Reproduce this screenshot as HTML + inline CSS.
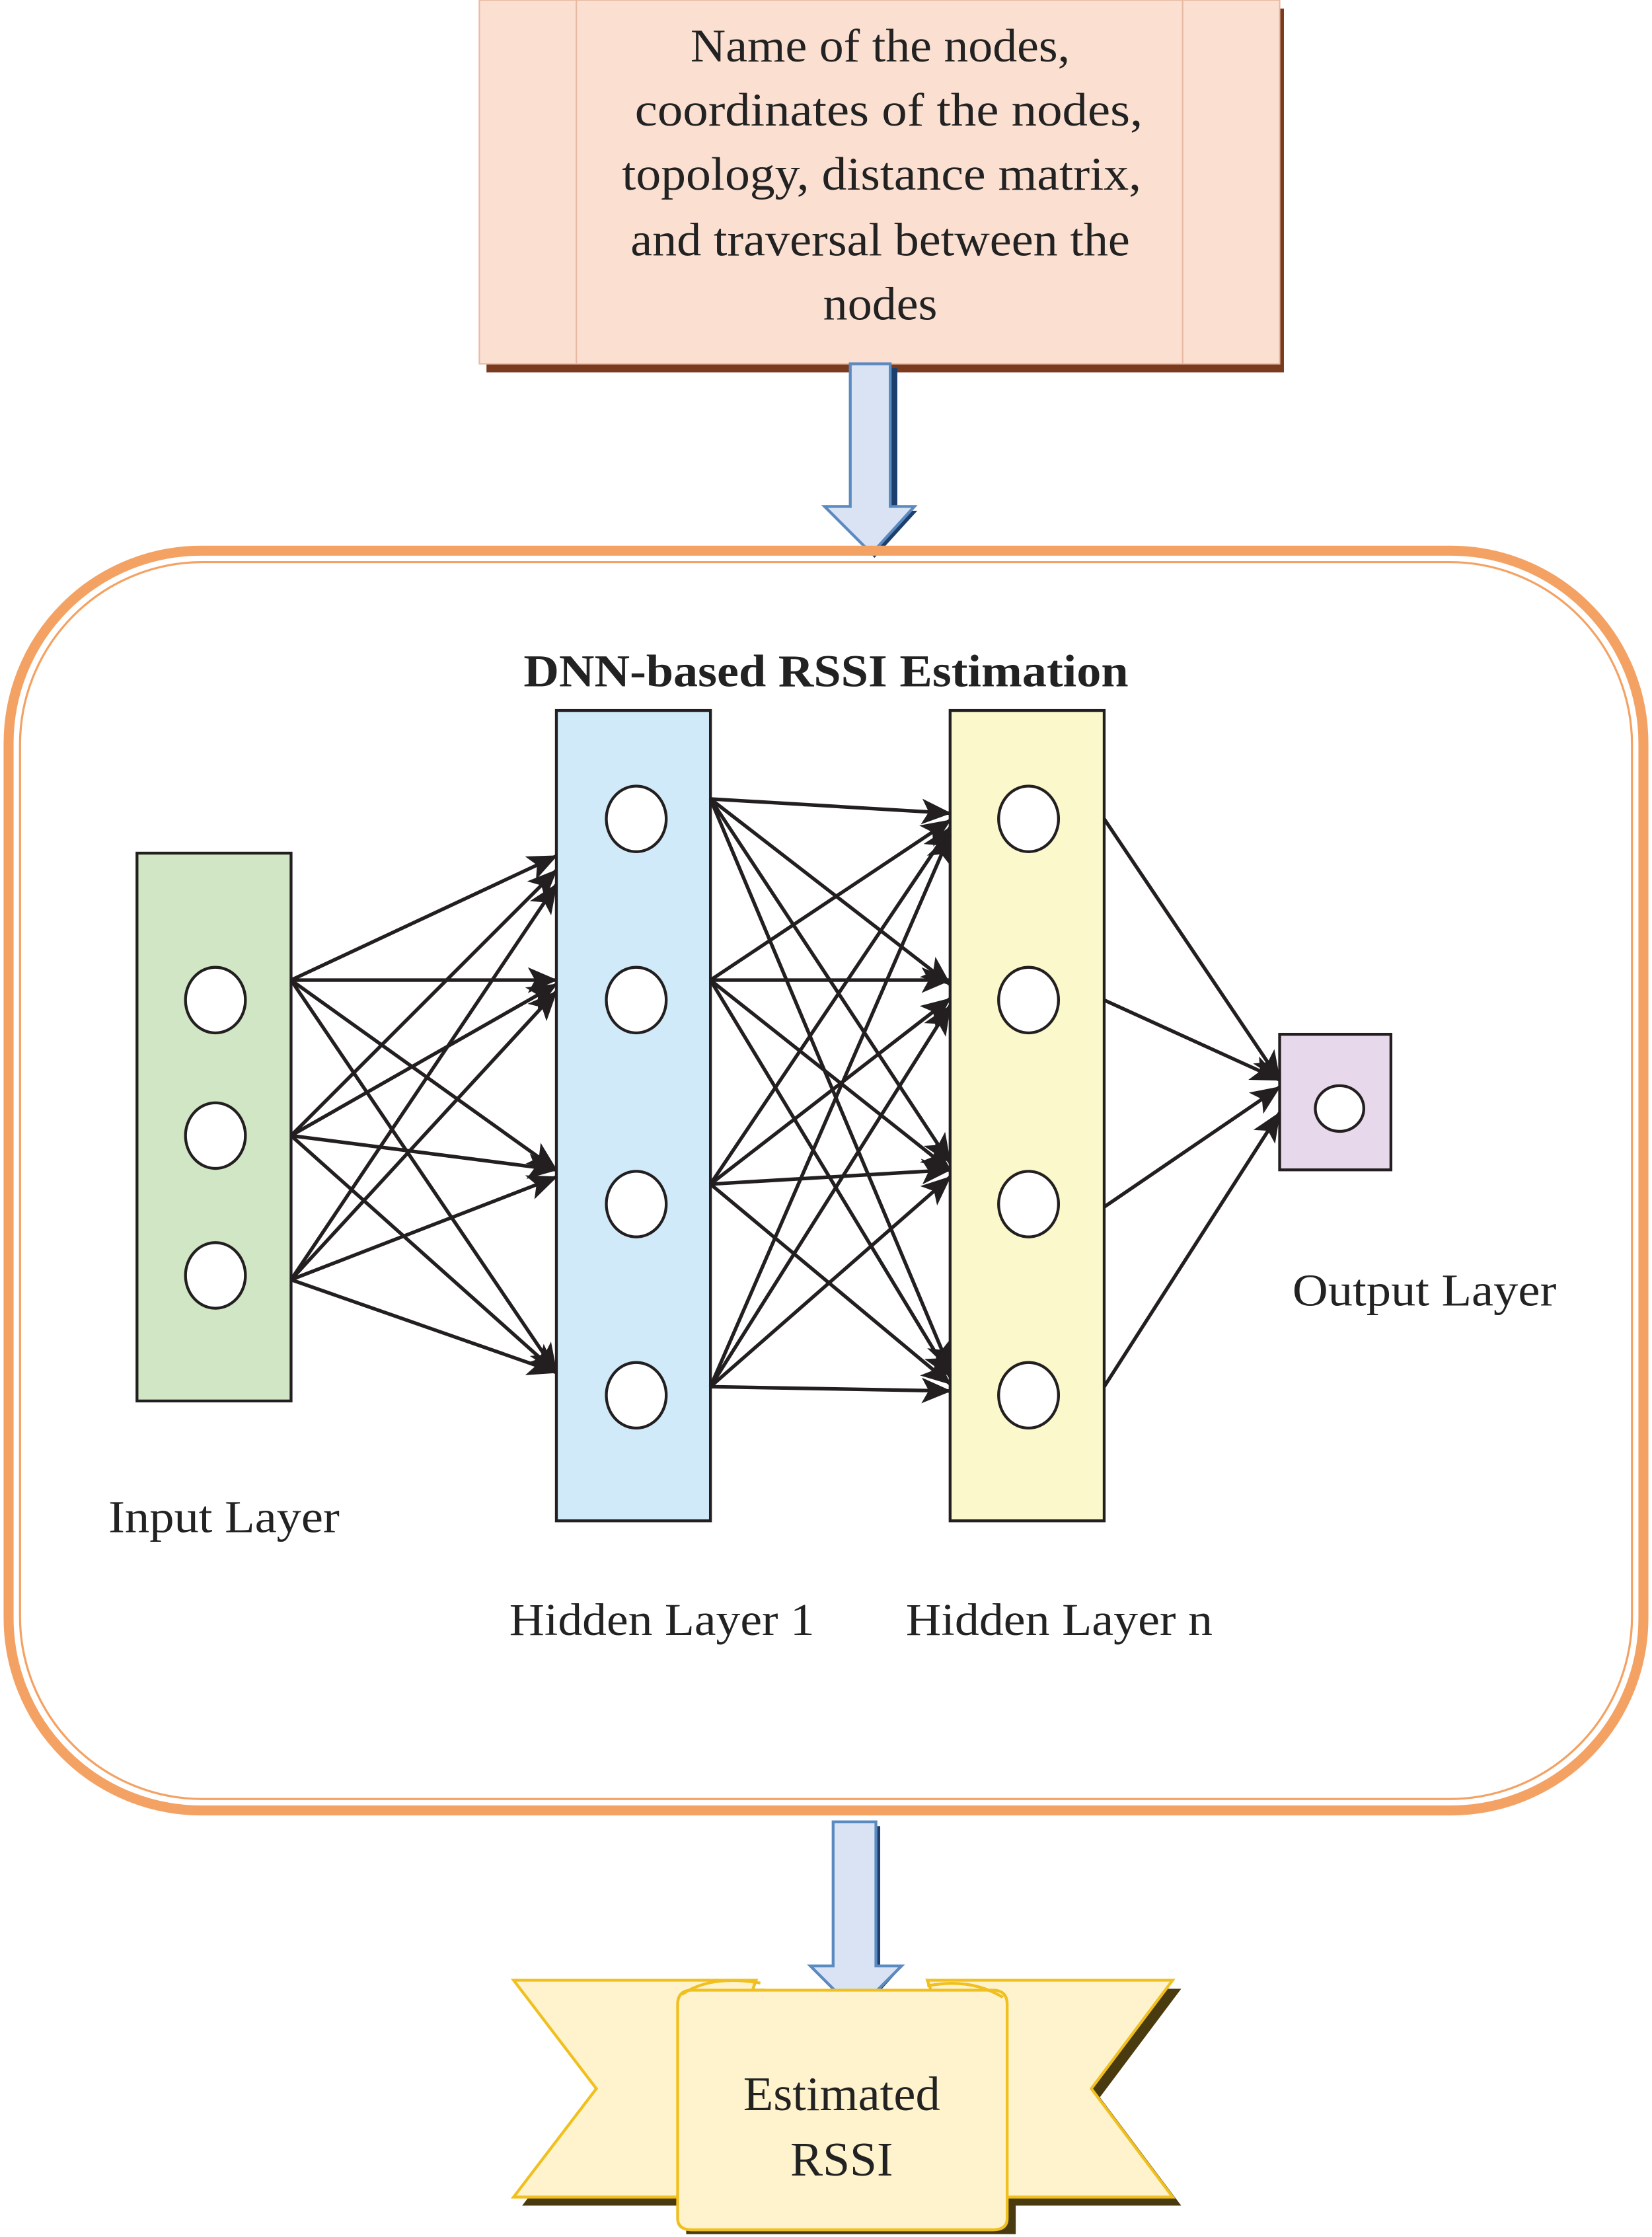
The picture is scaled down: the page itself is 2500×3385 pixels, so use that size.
<!DOCTYPE html>
<html><head><meta charset="utf-8"><style>
html,body{margin:0;padding:0;background:#fff;}
svg{display:block;}
text{font-family:"Liberation Serif",serif;fill:#222;}
</style></head><body>
<svg width="2500" height="3385" viewBox="0 0 1158 1568" xmlns="http://www.w3.org/2000/svg">
<defs>
<marker id="ah2" markerWidth="24" markerHeight="24" refX="20" refY="12" orient="auto" markerUnits="userSpaceOnUse">
<path d="M0,3 L21,12 L0,21 L5,12 z" fill="#231f20"/>
</marker>
</defs>
<!-- top box -->
<rect x="341" y="6" width="559" height="255" fill="#7a3a1e"/>
<rect x="336" y="0" width="561" height="255" fill="#fbe0d2" stroke="#e8b9a2" stroke-width="1"/>
<line x1="404" y1="0" x2="404" y2="255" stroke="#e8b9a2"/>
<line x1="829" y1="0" x2="829" y2="255" stroke="#e8b9a2"/>
<g font-size="33" text-anchor="middle" lengthAdjust="spacingAndGlyphs">
<text x="617" y="43" textLength="266" lengthAdjust="spacingAndGlyphs">Name of the nodes,</text>
<text x="623" y="88" textLength="356" lengthAdjust="spacingAndGlyphs">coordinates of the nodes,</text>
<text x="618" y="133" textLength="364" lengthAdjust="spacingAndGlyphs">topology, distance matrix,</text>
<text x="617" y="179" textLength="350" lengthAdjust="spacingAndGlyphs">and traversal between the</text>
<text x="617" y="224" textLength="80" lengthAdjust="spacingAndGlyphs">nodes</text>
</g>
<!-- top arrow -->
<path d="M601,258 h28 v100 h14 l-30,33 l-30,-33 h18 z" fill="#1d3f6e"/>
<path d="M596,255 h28 v100 h17 l-30,33 l-33,-33 h18 z" fill="#d9e3f3" stroke="#5b8ac0" stroke-width="2"/>
<!-- big rounded frame -->
<rect x="6" y="386" width="1146" height="883" rx="135" fill="none" stroke="#f4a264" stroke-width="7"/>
<rect x="14" y="394" width="1130" height="867" rx="128" fill="none" stroke="#f4a264" stroke-width="1.5"/>
<text x="579" y="481" font-size="32" font-weight="bold" text-anchor="middle" textLength="424" lengthAdjust="spacingAndGlyphs">DNN-based RSSI Estimation</text>
<!-- layers -->
<rect x="96" y="598" width="108" height="384" fill="#d0e6c4" stroke="#231f20" stroke-width="2"/>
<rect x="390" y="498" width="108" height="568" fill="#d0eafa" stroke="#231f20" stroke-width="2"/>
<rect x="666" y="498" width="108" height="568" fill="#fbf8cc" stroke="#231f20" stroke-width="2"/>
<rect x="897" y="725" width="78" height="95" fill="#e8d8ec" stroke="#231f20" stroke-width="2"/>
<g fill="#fff" stroke="#231f20" stroke-width="2">
<ellipse cx="151" cy="701" rx="21" ry="23"/><ellipse cx="151" cy="796" rx="21" ry="23"/><ellipse cx="151" cy="894" rx="21" ry="23"/>
<ellipse cx="446" cy="574" rx="21" ry="23"/><ellipse cx="446" cy="701" rx="21" ry="23"/><ellipse cx="446" cy="844" rx="21" ry="23"/><ellipse cx="446" cy="978" rx="21" ry="23"/>
<ellipse cx="721" cy="574" rx="21" ry="23"/><ellipse cx="721" cy="701" rx="21" ry="23"/><ellipse cx="721" cy="844" rx="21" ry="23"/><ellipse cx="721" cy="978" rx="21" ry="23"/>
<ellipse cx="939" cy="777" rx="17" ry="16"/>
</g>
<g stroke="#231f20" stroke-width="2.5" marker-end="url(#ah2)">
<line x1="204" y1="687" x2="390" y2="600"/><line x1="204" y1="687" x2="390" y2="687"/><line x1="204" y1="687" x2="390" y2="820"/><line x1="204" y1="687" x2="390" y2="962"/>
<line x1="204" y1="796" x2="390" y2="610"/><line x1="204" y1="796" x2="390" y2="690"/><line x1="204" y1="796" x2="390" y2="820"/><line x1="204" y1="796" x2="390" y2="962"/>
<line x1="204" y1="897" x2="390" y2="620"/><line x1="204" y1="897" x2="390" y2="695"/><line x1="204" y1="897" x2="390" y2="825"/><line x1="204" y1="897" x2="390" y2="962"/>
<line x1="498" y1="560" x2="666" y2="570"/><line x1="498" y1="560" x2="666" y2="690"/><line x1="498" y1="560" x2="666" y2="815"/><line x1="498" y1="560" x2="666" y2="960"/>
<line x1="498" y1="687" x2="666" y2="575"/><line x1="498" y1="687" x2="666" y2="687"/><line x1="498" y1="687" x2="666" y2="820"/><line x1="498" y1="687" x2="666" y2="965"/>
<line x1="498" y1="830" x2="666" y2="580"/><line x1="498" y1="830" x2="666" y2="700"/><line x1="498" y1="830" x2="666" y2="820"/><line x1="498" y1="830" x2="666" y2="970"/>
<line x1="498" y1="972" x2="666" y2="585"/><line x1="498" y1="972" x2="666" y2="705"/><line x1="498" y1="972" x2="666" y2="825"/><line x1="498" y1="972" x2="666" y2="975"/>
<line x1="774" y1="574" x2="897" y2="757"/><line x1="774" y1="701" x2="897" y2="757"/><line x1="774" y1="846" x2="897" y2="762"/><line x1="774" y1="972" x2="897" y2="780"/>
</g>
<g font-size="32">
<text x="76" y="1074" textLength="162" lengthAdjust="spacingAndGlyphs">Input Layer</text>
<text x="357" y="1146" textLength="214" lengthAdjust="spacingAndGlyphs">Hidden Layer 1</text>
<text x="635" y="1146" textLength="215" lengthAdjust="spacingAndGlyphs">Hidden Layer n</text>
<text x="906" y="915" textLength="185" lengthAdjust="spacingAndGlyphs">Output Layer</text>
</g>
<!-- bottom arrow -->
<path d="M589,1280 h28 v100 h14 l-30,33 l-30,-33 h18 z" fill="#1d3f6e"/>
<path d="M584,1277 h30 v101 h18 l-32,32 l-32,-32 h16 z" fill="#d9e3f3" stroke="#5b8ac0" stroke-width="2"/>
<!-- banner -->
<g fill="#4a3a10">
<polygon points="366,1394 536,1394 481,1546 366,1546 424,1470"/>
<polygon points="656,1394 828,1394 771,1470 828,1546 712,1546"/>
<rect x="481" y="1411" width="231" height="155"/>
</g>
<g fill="#fef3cc" stroke="#f0c020" stroke-width="2">
<polygon points="360,1388 530,1388 475,1540 360,1540 418,1464"/>
<polygon points="650,1388 822,1388 765,1464 822,1540 706,1540"/>
<path d="M475,1405 q0,-10 10,-10 h211 q10,0 10,10 v150 q0,8 -10,8 h-211 q-10,0 -10,-8 z"/>
<path d="M478,1398 q20,-14 55,-8" fill="none"/>
<path d="M650,1392 q30,-6 53,8" fill="none"/>
</g>
<g font-size="34" text-anchor="middle">
<text x="590" y="1479" textLength="138" lengthAdjust="spacingAndGlyphs">Estimated</text>
<text x="590" y="1525" textLength="72" lengthAdjust="spacingAndGlyphs">RSSI</text>
</g>
</svg>
</body></html>
